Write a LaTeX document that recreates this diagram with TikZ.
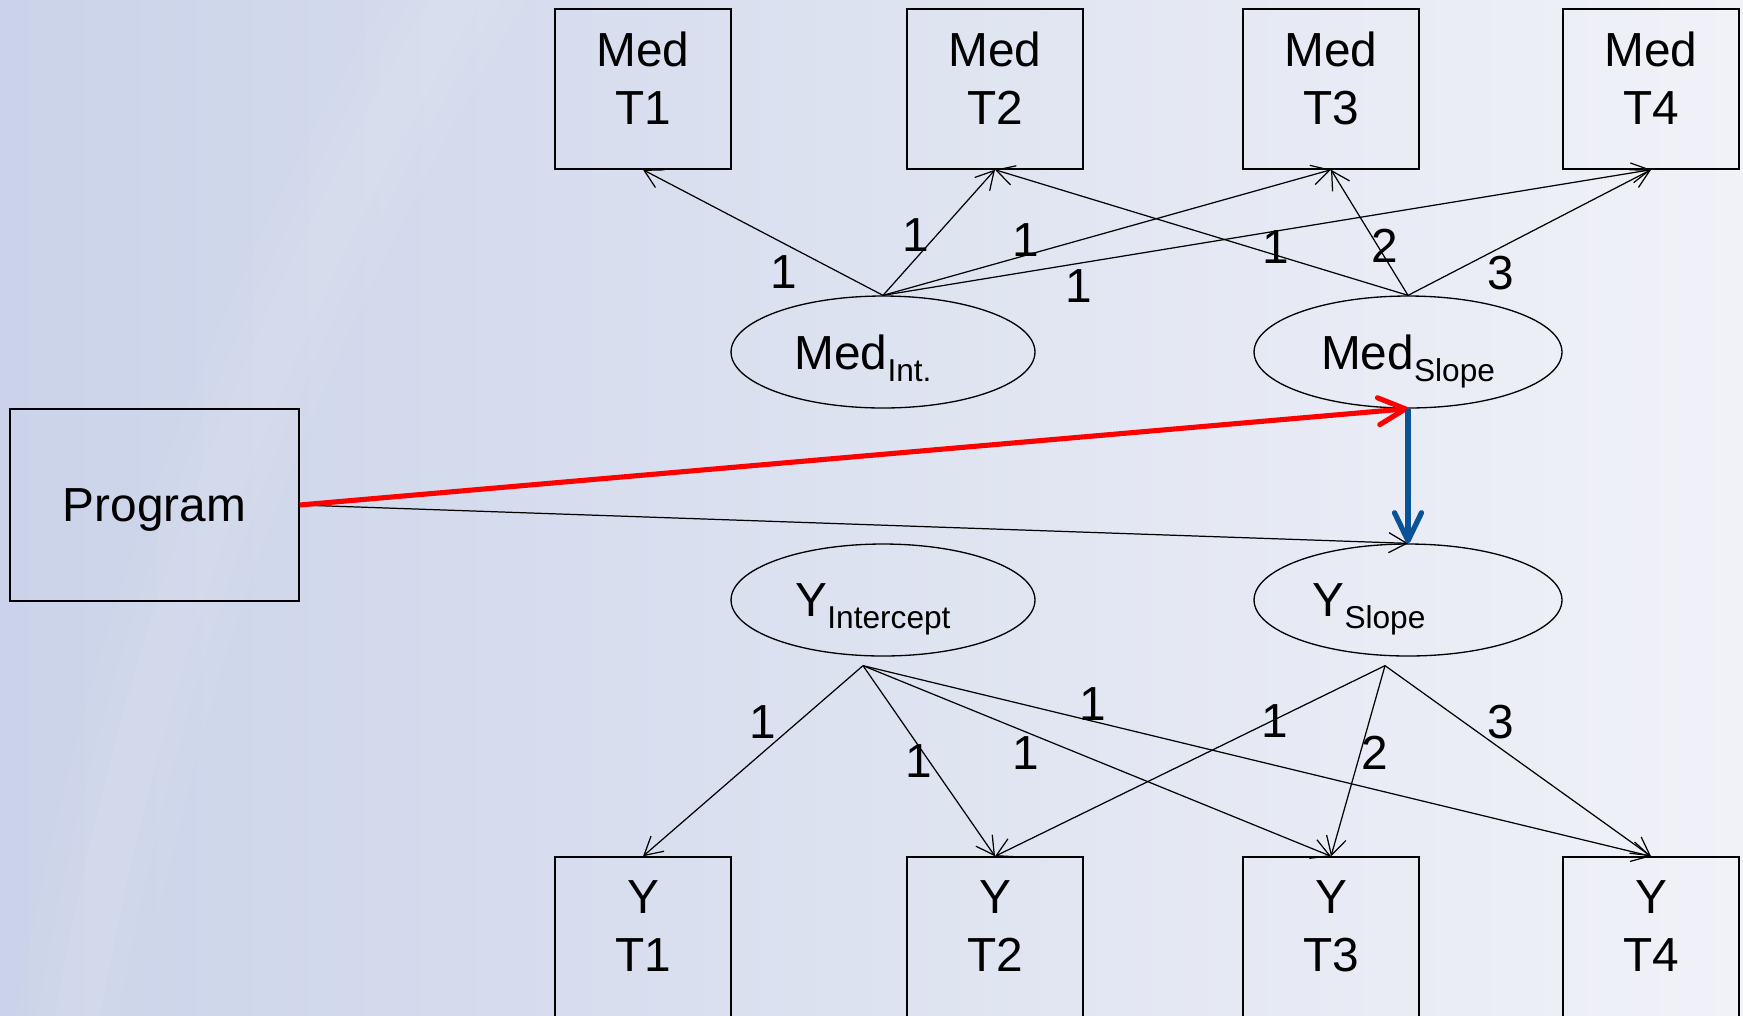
\documentclass[tikz,border=0pt]{standalone}
\usepackage{fontspec}
\setmainfont{Liberation Sans}
\usetikzlibrary{arrows.meta,shapes.geometric,calc}

\definecolor{bgleft}{RGB}{202,211,233}
\definecolor{bgmid}{RGB}{220,226,241}
\definecolor{bgright}{RGB}{241,242,248}
\definecolor{pathblue}{RGB}{10,82,150}

\newcommand{\mainsize}{\fontsize{27.2}{33}\selectfont}
\newcommand{\lowtext}[1]{\raisebox{-0.26em}{\fontsize{18}{21}\selectfont #1}}

\begin{document}
\begin{tikzpicture}[x=0.02cm,y=-0.02cm,
  font=\mainsize,
  obs/.style={draw, line width=0.85pt, minimum width=3.52cm, minimum height=3.2cm,
              inner sep=0pt, align=center},
  lat/.style={draw, ellipse, line width=0.75pt, minimum height=2.24cm,
              inner sep=0pt, text depth=0pt},
  load/.style={line width=0.7pt, -{Straight Barb[length=3.6mm,width=4mm]}},
  coef/.style={inner sep=0pt},
  apath/.style={red, line width=2.9pt, -{Straight Barb[length=5.4mm,width=5.4mm,round]}},
  bpath/.style={pathblue, line width=3pt, -{Straight Barb[length=5.6mm,width=5.4mm,round]}},
  sheen/.style={white, line cap=round}]

% background
\useasboundingbox (0,0) rectangle (1743,1015);
\shade[left color=bgleft, middle color=bgmid, right color=bgright] (0,0) rectangle (1743,1015);
\foreach \w/\o in {2.4cm/0.04, 1.6cm/0.04, 0.9cm/0.05}
  \draw[sheen, opacity=\o, line width=\w] (70,1060) .. controls (130,700) and (240,350) .. (480,-40);

% mediator measures
\node[obs] (m1) at (643,89)  {Med\\T1\rule[-4.5mm]{0pt}{4.5mm}};
\node[obs] (m2) at (995,89)  {Med\\T2\rule[-4.5mm]{0pt}{4.5mm}};
\node[obs] (m3) at (1331,89) {Med\\T3\rule[-4.5mm]{0pt}{4.5mm}};
\node[obs] (m4) at (1651,89) {Med\\T4\rule[-4.5mm]{0pt}{4.5mm}};

% outcome measures
\node[obs] (y1) at (643,937)  {Y\\T1\rule[-4.5mm]{0pt}{4.5mm}};
\node[obs] (y2) at (995,937)  {Y\\T2\rule[-4.5mm]{0pt}{4.5mm}};
\node[obs] (y3) at (1331,937) {Y\\T3\rule[-4.5mm]{0pt}{4.5mm}};
\node[obs] (y4) at (1651,937) {Y\\T4\rule[-4.5mm]{0pt}{4.5mm}};

% growth factors (trailing space sets the text a little left of centre)
\node[lat, minimum width=6.08cm] (mi) at (883,352)  {Med\lowtext{Int.}\hspace*{8mm}};
\node[lat, minimum width=6.16cm] (ms) at (1408,352) {Med\lowtext{Slope}};
\node[lat, minimum width=6.08cm] (yi) at (883,600)  {Y\lowtext{Intercept}\hspace*{4mm}};
\node[lat, minimum width=6.16cm] (ys) at (1408,600) {Y\lowtext{Slope}\hspace*{15.6mm}};

% predictor
\node[draw, line width=0.85pt, minimum width=5.78cm, minimum height=3.84cm,
      inner sep=0pt, text depth=0pt] (prog) at (154.5,505) {Program};

% loadings of the mediator
\draw[load] (mi.north) -- (m1.south);
\draw[load] (mi.north) -- (m2.south);
\draw[load] (mi.north) -- (m3.south);
\draw[load] (mi.north) -- (m4.south);
\draw[load] (ms.north) -- (m2.south);
\draw[load] (ms.north) -- (m3.south);
\draw[load] (ms.north) -- (m4.south);

% loadings of the outcome
\coordinate (yi-out) at ($(yi.south)+(-20,9)$);
\coordinate (ys-out) at ($(ys.south)+(-23,9)$);
\draw[load] (yi-out) -- (y1.north);
\draw[load] (yi-out) -- (y2.north);
\draw[load] (yi-out) -- (y3.north);
\draw[load] (yi-out) -- (y4.north);
\draw[load] (ys-out) -- (y2.north);
\draw[load] (ys-out) -- (y3.north);
\draw[load] (ys-out) -- (y4.north);

% structural paths
\draw[load] (prog.east) -- (ys.north);
\draw[apath] (prog.east) -- (ms.south);
\draw[bpath] (ms.south) -- (ys.north);

% loading values
\node[coef] (c1) at (784,272)  {1};
\node[coef] (c2) at (916,235)  {1};
\node[coef] (c3) at (1026,240) {1};
\node[coef] (c4) at (1079,286) {1};
\node[coef] (c5) at (1276,247) {1};
\node[coef] (c6) at (1385,246) {2};
\node[coef] (c7) at (1501,273) {3};

\node[coef] (d1) at (763,722)  {1};
\node[coef] (d2) at (919,761)  {1};
\node[coef] (d3) at (1026,753) {1};
\node[coef] (d4) at (1093,704) {1};
\node[coef] (d5) at (1275,721) {1};
\node[coef] (d6) at (1375,753) {2};
\node[coef] (d7) at (1501,722) {3};
\end{tikzpicture}
\end{document}
